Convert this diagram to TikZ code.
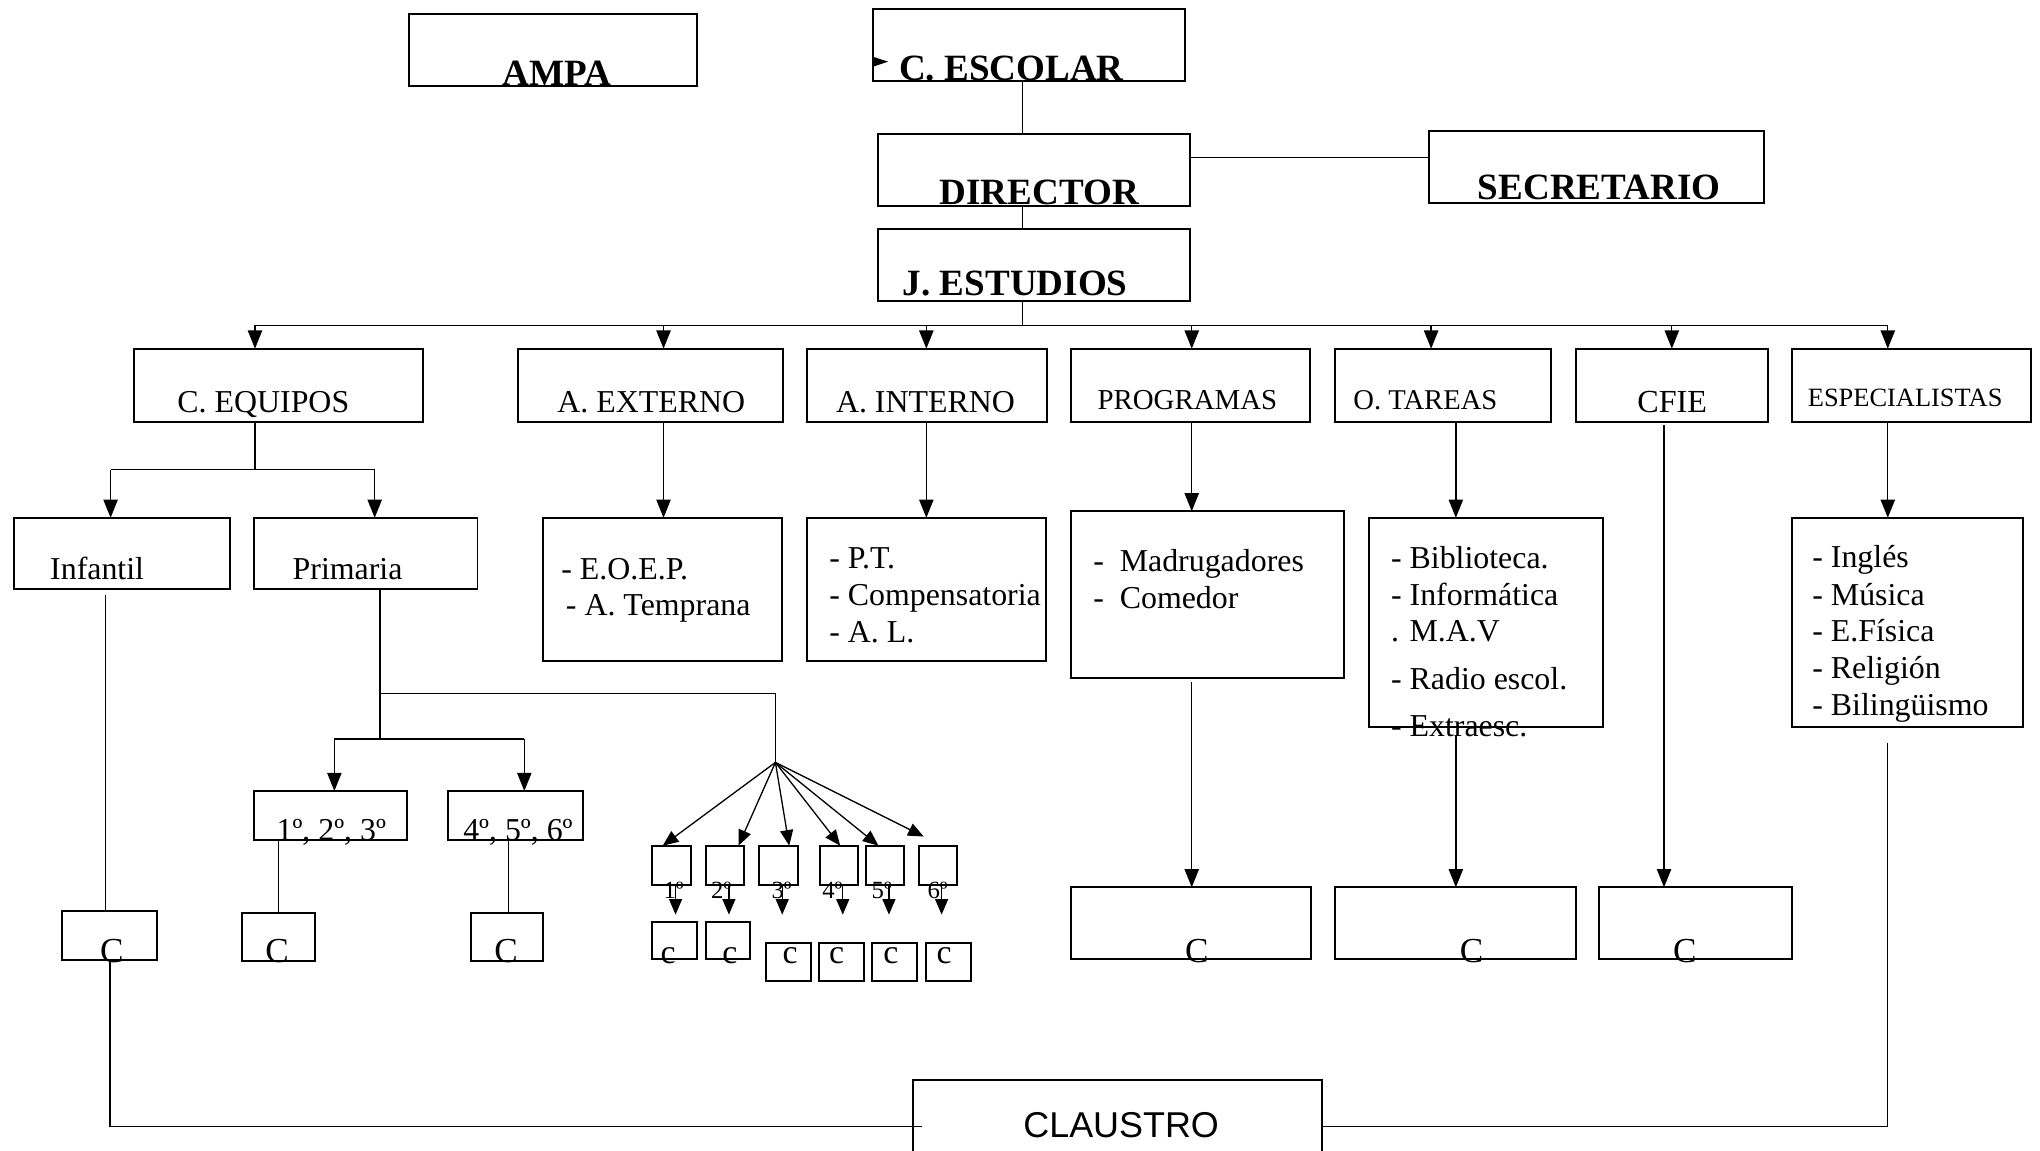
\documentclass[tikz,border=0pt]{standalone}
\usepackage{fontspec}
\setmainfont{Liberation Serif}
\newfontfamily\sansfam{Liberation Sans}
\usetikzlibrary{arrows.meta}
\newcommand{\fs}[1]{\fontsize{#1}{#1}\selectfont}
\begin{document}
\begin{tikzpicture}[x=1pt,y=-1pt,
  box/.style={draw, line width=1.5pt, inner sep=0pt, outer sep=0pt, anchor=north west},
  lbl/.style={inner sep=0pt, outer sep=0pt, anchor=base west},
  lblc/.style={inner sep=0pt, outer sep=0pt, anchor=base},
  conn/.style={line width=1pt},
  arr/.style={conn, -{Triangle[length=14pt,width=11pt]}},
  sarr/.style={conn, -{Triangle[length=12pt,width=10pt]}},
  bold/.style={font=\fs{28.5}\bfseries},
  reg/.style={font=\fs{24.5}},
]
\useasboundingbox (0,0) rectangle (1568,884);
\clip (0,0) rectangle (1568,884);
\fill[white] (0,0) rectangle (1568,884);

% ---------- top boxes
\node[box, minimum width=222pt, minimum height=55pt] (ampa) at (314,11) {};
\node[box, minimum width=240pt, minimum height=55pt] (cesc) at (671,7) {};
\node[box, minimum width=240pt, minimum height=55pt] (dir) at (675,103) {};
\node[box, minimum width=258pt, minimum height=55pt] (sec) at (1098,101) {};
\node[box, minimum width=240pt, minimum height=55pt] (jest) at (675,176) {};

\node[lbl, bold] (tampa) at (386.5,65.5) {AMPA};
\node[lbl, bold] (tcesc) at (691,61.5) {C. ESCOLAR};
\node[lbl, bold] (tdir) at (722.3,156.8) {DIRECTOR};
\node[lbl, bold] (tsec) at (1136,153.7) {SECRETARIO};
\node[lbl, bold] (tjest) at (694,226.8) {J. ESTUDIOS};
\fill (671,43.6) -- (682.6,47.4) -- (671,51.3) -- cycle;

% ---------- row 1
\node[box, minimum width=222pt, minimum height=56pt] (ceq) at (103,268) {};
\node[box, minimum width=204pt, minimum height=56pt] (aext) at (398,268) {};
\node[box, minimum width=185pt, minimum height=56pt] (aint) at (620,268) {};
\node[box, minimum width=184pt, minimum height=56pt] (prog) at (823,268) {};
\node[box, minimum width=166pt, minimum height=56pt] (otar) at (1026,268) {};
\node[box, minimum width=148pt, minimum height=56pt] (cfie) at (1211,268) {};
\node[box, minimum width=184pt, minimum height=56pt] (espe) at (1377,268) {};

\node[lbl, reg] (tceq) at (136.4,317.2) {C. EQUIPOS};
\node[lbl, reg] (taext) at (428.4,317.2) {A. EXTERNO};
\node[lbl, reg] (taint) at (642.6,317.2) {A. INTERNO};
\node[lbl, font=\fs{22.2}] (tprog) at (843.6,314.7) {PROGRAMAS};
\node[lbl, font=\fs{22}] (totar) at (1040.2,314.7) {O. TAREAS};
\node[lbl, font=\fs{24.7}] (tcfie) at (1258.5,317.2) {CFIE};
\node[lbl, font=\fs{20.3}] (tespe) at (1389.6,312.6) {ESPECIALISTAS};

% ---------- row 2
\node[box, minimum width=166pt, minimum height=55pt] (inf) at (11,398) {};
\node[box, minimum width=172pt, minimum height=55pt] (prim) at (195,398) {};
\node[box, minimum width=184pt, minimum height=110pt] (aextl) at (417,398) {};
\node[box, minimum width=184pt, minimum height=110pt] (aintl) at (620,398) {};
\node[box, minimum width=210pt, minimum height=128pt] (progl) at (823,393) {};
\node[box, minimum width=180pt, minimum height=161pt] (otarl) at (1052,398) {};
\node[box, minimum width=178pt, minimum height=161pt] (espel) at (1377,398) {};

\node[lbl, reg] (tinf) at (38.6,445.4) {Infantil};
\node[lbl, reg] (tprim) at (225,445.4) {Primaria};
\node[lbl, reg] (te1) at (431.5,445.4) {- E.O.E.P.};
\node[lbl, reg] (te2) at (435,472.8) {- A. Temprana};
\node[lbl, reg] (ti1) at (637.4,436.9) {- P.T.};
\node[lbl, reg] (ti2) at (637.4,465.6) {- Compensatoria};
\node[lbl, reg] (ti3) at (637.4,494) {- A. L.};
\node[lbl, reg] (tp1) at (840.3,439.5) {-~~Madrugadores};
\node[lbl, reg] (tp2) at (840.3,467.6) {-~~Comedor};
\node[lbl, reg] (to1) at (1069.2,436.9) {- Biblioteca.};
\node[lbl, reg] (to2) at (1069.2,465.1) {- Informática};
\node[lbl, reg] (to3) at (1069.2,493.3) {. M.A.V};
\node[lbl, reg] (to4) at (1069.2,529.9) {- Radio escol.};
\node[lbl, reg] (to5) at (1069.2,566.3) {- Extraesc.};
\node[lbl, reg] (ts1) at (1393,436.1) {- Inglés};
\node[lbl, reg] (ts2) at (1393,465.1) {- Música};
\node[lbl, reg] (ts3) at (1393,493.3) {- E.Física};
\node[lbl, reg] (ts4) at (1393,521.5) {- Religión};
\node[lbl, reg] (ts5) at (1393,549.7) {- Bilingüismo};

% ---------- grades
\node[box, minimum width=118pt, minimum height=38pt] (g123) at (195,608) {};
\node[box, minimum width=104pt, minimum height=38pt] (g456) at (344,608) {};
\node[lbl, reg] (tg123) at (212.6,645.8) {1º, 2º, 3º};
\node[lbl, reg] (tg456) at (356.1,645.8) {4º, 5º, 6º};

% small boxes
\foreach \i/\x in {1/501.5,2/542.5,3/583.5,4/630,5/665.5,6/706}
  \node[box, minimum width=29.5pt, minimum height=30pt] (s\i) at (\x,650) {};
\foreach \i/\x/\t in {1/510/1º,2/546.6/2º,3/593/3º,4/632/4º,5/670/5º,6/713/6º}
  \node[lbl, font=\fs{19}] (ls\i) at (\x,690.6) {\t};

% c boxes
\node[box, minimum width=34.5pt, minimum height=28.5pt] (cb1) at (501.5,708.5) {};
\node[box, minimum width=34pt, minimum height=28.5pt] (cb2) at (542.5,708.5) {};
\node[box, minimum width=34.5pt, minimum height=29pt] (cb3) at (588.5,725) {};
\node[box, minimum width=34.5pt, minimum height=29pt] (cb4) at (629.5,725) {};
\node[box, minimum width=34.5pt, minimum height=29pt] (cb5) at (670,725) {};
\node[box, minimum width=34.5pt, minimum height=29pt] (cb6) at (711.5,725) {};
\foreach \i/\x in {1/513.5,2/561,3/607.3,4/643,5/684.7,6/725.7}
  \node[lblc, font=\fs{26}] (tc\i) at (\x,740.6) {c};

% C boxes
\node[box, minimum width=73pt, minimum height=38pt] (ci) at (48,700) {};
\node[box, minimum width=56pt, minimum height=37pt] (c1) at (186,702) {};
\node[box, minimum width=55pt, minimum height=37pt] (c2) at (362,702) {};
\node[box, minimum width=185pt, minimum height=55pt] (cp) at (823,682) {};
\node[box, minimum width=185pt, minimum height=55pt] (co) at (1026,682) {};
\node[box, minimum width=148pt, minimum height=55pt] (cc) at (1229,682) {};
\foreach \n/\x in {ci/86,c1/213,c2/389,cp/920,co/1131,cc/1295}
  \node[lblc, font=\fs{27}] (t\n) at (\x,740) {C};

% claustro
\node[box, minimum width=314pt, minimum height=72pt] (claustro) at (702,830) {};
\node[lbl, font=\sansfam\fs{27.6}] (tclaustro) at (786.6,874.3) {CLAUSTRO};

% ---------- connectors
\coordinate (xm) at (786,0);
\coordinate (ys) at (0,121);
\draw[conn] (cesc.south -| xm) -- (dir.north -| xm);
\draw[conn] (dir.south -| xm) -- (jest.north -| xm);
\draw[conn] (dir.east |- ys) -- (sec.west |- ys);
\coordinate (bus) at (786,250);
\coordinate (busL) at (196,250);
\coordinate (busR) at (1451,250);
\draw[conn] (jest.south -| xm) -- (bus);
\draw[conn] (busL) -- (busR);
\foreach \n/\x in {ceq/196, aext/510, aint/712, prog/916, otar/1100, cfie/1285, espe/1451}
  \draw[arr] (\x,250) -- (\n.north -| \x,0);

% C. EQUIPOS subtree
\coordinate (ceqj) at (196,361);
\draw[conn] (ceq.south -| ceqj) -- (ceqj);
\draw[conn] (85,361) -- (288,361);
\draw[arr] (85,361) -- (inf.north -| 85,0);
\draw[arr] (288,361) -- (prim.north -| 288,0);
\draw[conn] (81,457) -- (ci.north -| 81,0);
\draw[conn] (prim.south -| 292,0) -- (292,568);
\coordinate (fan) at (596,586);
\draw[conn] (292,533) -- (596,533) -- (fan);
\draw[conn] (257,568) -- (403,568);
\draw[arr] (257,568) -- (g123.north -| 257,0);
\draw[arr] (403,568) -- (g456.north -| 403,0);
\draw[conn] (g123.south -| 214,0) -- (c1.north -| 214,0);
\draw[conn] (g456.south -| 391,0) -- (c2.north -| 391,0);

% fan
\draw[sarr] (fan) -- (s1.north -| 509.4,0);
\draw[sarr] (fan) -- (s2.north -| 567.6,0);
\draw[sarr] (fan) -- (s3.north -| 606.6,0);
\draw[sarr] (fan) -- (s4.north -| 645.8,0);
\draw[sarr] (fan) -- (s5.north -| 675.2,0);
\draw[sarr] (fan) -- ([shift={(4,-7)}]s6.north west);
\foreach \i in {1,...,6}
  \draw[sarr] ([xshift=3pt]s\i.south) -- ++(0,23);

% other arrows
\draw[arr] (aext.south -| 510,0) -- (aextl.north -| 510,0);
\draw[arr] (aint.south -| 712,0) -- (aintl.north -| 712,0);
\draw[arr] (prog.south -| 916,0) -- (progl.north -| 916,0);
\draw[arr] (otar.south -| 1119,0) -- (otarl.north -| 1119,0);
\draw[arr] (espe.south -| 1451,0) -- (espel.north -| 1451,0);
\draw[arr] ([yshift=-3pt]cfie.south -| 1279,0) -- (cc.north -| 1279,0);
\draw[arr] ([yshift=-3pt]progl.south -| 916,0) -- (cp.north -| 916,0);
\draw[arr] (1119,566) -- (co.north -| 1119,0);

% to claustro
\draw[conn] (1451,571) |- (claustro.east);
\draw[conn] (ci.south) |- ([xshift=7pt]claustro.west);
\end{tikzpicture}
\end{document}
